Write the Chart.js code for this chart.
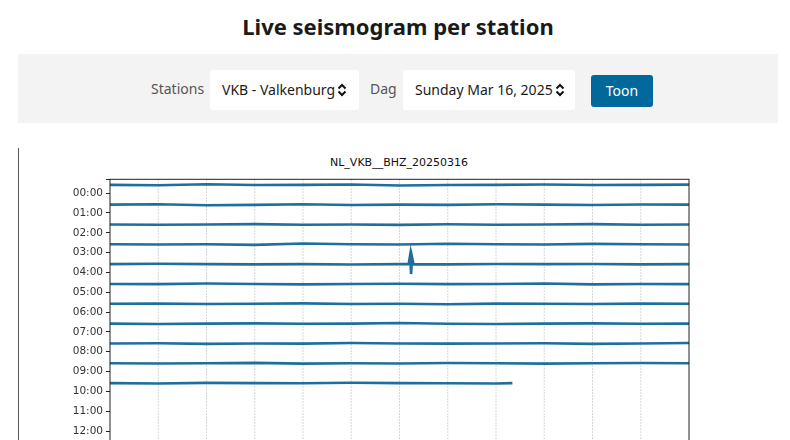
<!DOCTYPE html>
<html>
<head>
<meta charset="utf-8">
<script src="https://cdn.jsdelivr.net/npm/chart.js@4/dist/chart.umd.min.js"></script>
<style>
  body { margin: 0; width: 790px; height: 440px; overflow: hidden; background: #fff; font-family: "Noto Sans", sans-serif; position: relative; }
  h1 { position: absolute; top: 11px; left: 0; width: 796px; margin: 0; text-align: center; font-size: 22px; font-weight: bold; color: #1a1a1a; }
  .bar { position: absolute; left: 18px; top: 54px; width: 760px; height: 69px; background: #f3f3f3; }
  .lbl { position: absolute; top: 79px; font-size: 14px; color: #555; }
  .sel { position: absolute; top: 70px; height: 40px; background: #fff; border-radius: 3px; font-size: 14px; color: #1a1a1a; line-height: 40px; box-sizing: border-box; padding-left: 12px; }
  .sel svg { vertical-align: -2px; margin-left: 2px; }
  .btn { position: absolute; left: 591px; top: 75px; width: 62px; height: 32px; background: #01689b; color: #fff; border-radius: 3px; font-size: 14px; text-align: center; line-height: 32px; }
  .wrap { position: absolute; left: 18px; top: 148px; width: 772px; height: 300px; border-left: 1px solid #555; }
  .ctitle { position: absolute; left: 0; width: 760px; top: 8px; text-align: center; font-family: "DejaVu Sans", sans-serif; font-size: 11px; color: #111; }
  .cbox { position: absolute; left: 0; top: 22px; width: 772px; height: 310px; }
</style>
</head>
<body>
<h1>Live seismogram per station</h1>
<div class="bar"></div>
<div class="lbl" style="left:151px">Stations</div>
<div class="sel" style="left:210px;width:149px">VKB - Valkenburg<svg width="10" height="14" viewBox="0 0 10 14"><path d="M1.5 5.5 L5 2 L8.5 5.5 M1.5 8.5 L5 12 L8.5 8.5" stroke="#111" stroke-width="2" fill="none"/></svg></div>
<div class="lbl" style="left:370px">Dag</div>
<div class="sel" style="left:403px;width:172px">Sunday Mar 16, 2025<svg width="10" height="14" viewBox="0 0 10 14"><path d="M1.5 5.5 L5 2 L8.5 5.5 M1.5 8.5 L5 12 L8.5 8.5" stroke="#111" stroke-width="2" fill="none"/></svg></div>
<div class="btn">Toon</div>
<div class="wrap">
  <div class="ctitle">NL_VKB__BHZ_20250316</div>
  <div class="cbox"><canvas id="seis"></canvas></div>
</div>
<script>
const hourLabels = ['00:00','01:00','02:00','03:00','04:00','05:00','06:00','07:00','08:00','09:00','10:00','11:00','12:00','13:00','14:00'];
const minutes = [0, 5, 10, 15, 20, 25, 30, 35, 40, 45, 50, 55, 60];
const traces = [
  [0.00, 0.02, -0.03, 0.01, 0.00, -0.02, 0.03, 0.01, 0.00, -0.02, 0.01, 0.00, -0.01],
  [0.00, -0.02, 0.03, 0.01, -0.02, 0.02, 0.00, 0.01, -0.02, 0.00, 0.02, -0.01, 0.00],
  [0.00, 0.01, 0.00, -0.02, 0.01, 0.00, 0.02, -0.01, 0.01, 0.00, -0.02, 0.01, 0.00],
  [0.00, 0.01, 0.00, 0.03, -0.04, 0.00, 0.01, -0.03, 0.00, 0.01, -0.02, 0.00, 0.01],
  [0.00, -0.02, 0.00, 0.01, 0.00, 0.02, 0.00, 0.01, -0.01, 0.00, -0.01, 0.01, 0.00],
  [0.00, 0.01, -0.02, 0.00, 0.02, 0.00, -0.01, 0.01, 0.00, -0.02, 0.02, 0.00, 0.01],
  [0.00, -0.01, 0.01, 0.00, -0.02, 0.01, 0.00, 0.02, -0.01, 0.00, 0.01, -0.01, 0.00],
  [0.00, 0.02, 0.00, -0.01, 0.01, 0.00, -0.03, 0.01, 0.02, 0.00, -0.01, 0.01, 0.00],
  [0.00, -0.01, 0.02, 0.00, 0.01, -0.02, 0.00, 0.01, 0.00, -0.01, 0.02, 0.00, -0.02],
  [0.00, 0.01, 0.00, -0.02, 0.02, 0.00, 0.01, -0.01, 0.00, 0.02, 0.00, -0.01, 0.00],
  [0.00, 0.02, -0.01, 0.00, 0.01, -0.02, 0.00, 0.01, 0.02]
];
// event on the 04:00 trace
const eventMinutes = [30.95, 31.1, 31.2, 31.3, 31.45];
const eventValues = [0.0, -0.45, 0.5, -0.35, 0.0];
const lastTraceEnd = 41.7;
const traceOffset = -0.42;

const datasets = traces.map((vals, h) => {
  let pts = vals.map((v, i) => ({ x: minutes[i], y: h + traceOffset + v }));
  if (h === 4) {
    pts = pts.concat(eventMinutes.map((m, i) => ({ x: m, y: h + traceOffset + eventValues[i] })));
    pts.sort((a, b) => a.x - b.x);
  }
  if (h === 10) pts.push({ x: lastTraceEnd, y: h + traceOffset });
  return {
    data: pts,
    borderColor: '#1f6f9e',
    borderWidth: 2.6,
    pointRadius: 0,
    tension: 0
  };
});

new Chart(document.getElementById('seis'), {
  type: 'line',
  data: { datasets: datasets },
  options: {
    responsive: true,
    maintainAspectRatio: false,
    animation: false,
    layout: { padding: { left: 0, right: 102, top: 0, bottom: 0 } },
    plugins: { legend: { display: false }, tooltip: { enabled: false } },
    scales: {
      x: {
        type: 'linear', min: 0, max: 60,
        ticks: { display: false, stepSize: 5 },
        grid: { display: false },
        border: { display: false },
        afterFit: s => { s.height = 5; }
      },
      y: {
        type: 'linear', reverse: true, min: -0.7, max: 14,
        ticks: {
          stepSize: 1, color: '#333', padding: 3,
          font: { family: 'DejaVu Sans', size: 10.5 },
          callback: v => hourLabels[v] || ''
        },
        grid: { drawOnChartArea: false, tickLength: 4, color: '#222' },
        border: { display: false },
        afterFit: s => { s.width = 91; }
      }
    }
  },
  plugins: [{
    id: 'frame',
    beforeDatasetsDraw(chart) {
      const { ctx, chartArea, scales } = chart;
      ctx.save();
      ctx.strokeStyle = '#bbb';
      ctx.lineWidth = 0.8;
      ctx.setLineDash([1.5, 1.5]);
      minutes.slice(1, -1).forEach(m => {
        const x = scales.x.getPixelForValue(m);
        ctx.beginPath(); ctx.moveTo(x, chartArea.top); ctx.lineTo(x, chartArea.bottom); ctx.stroke();
      });
      ctx.restore();
    },
    afterDatasetsDraw(chart) {
      const { ctx, chartArea } = chart;
      ctx.save();
      ctx.strokeStyle = '#222';
      ctx.lineWidth = 1;
      ctx.strokeRect(chartArea.left, chartArea.top, chartArea.right - chartArea.left, chartArea.bottom - chartArea.top);
      ctx.restore();
    }
  }]
});
</script>
</body>
</html>
